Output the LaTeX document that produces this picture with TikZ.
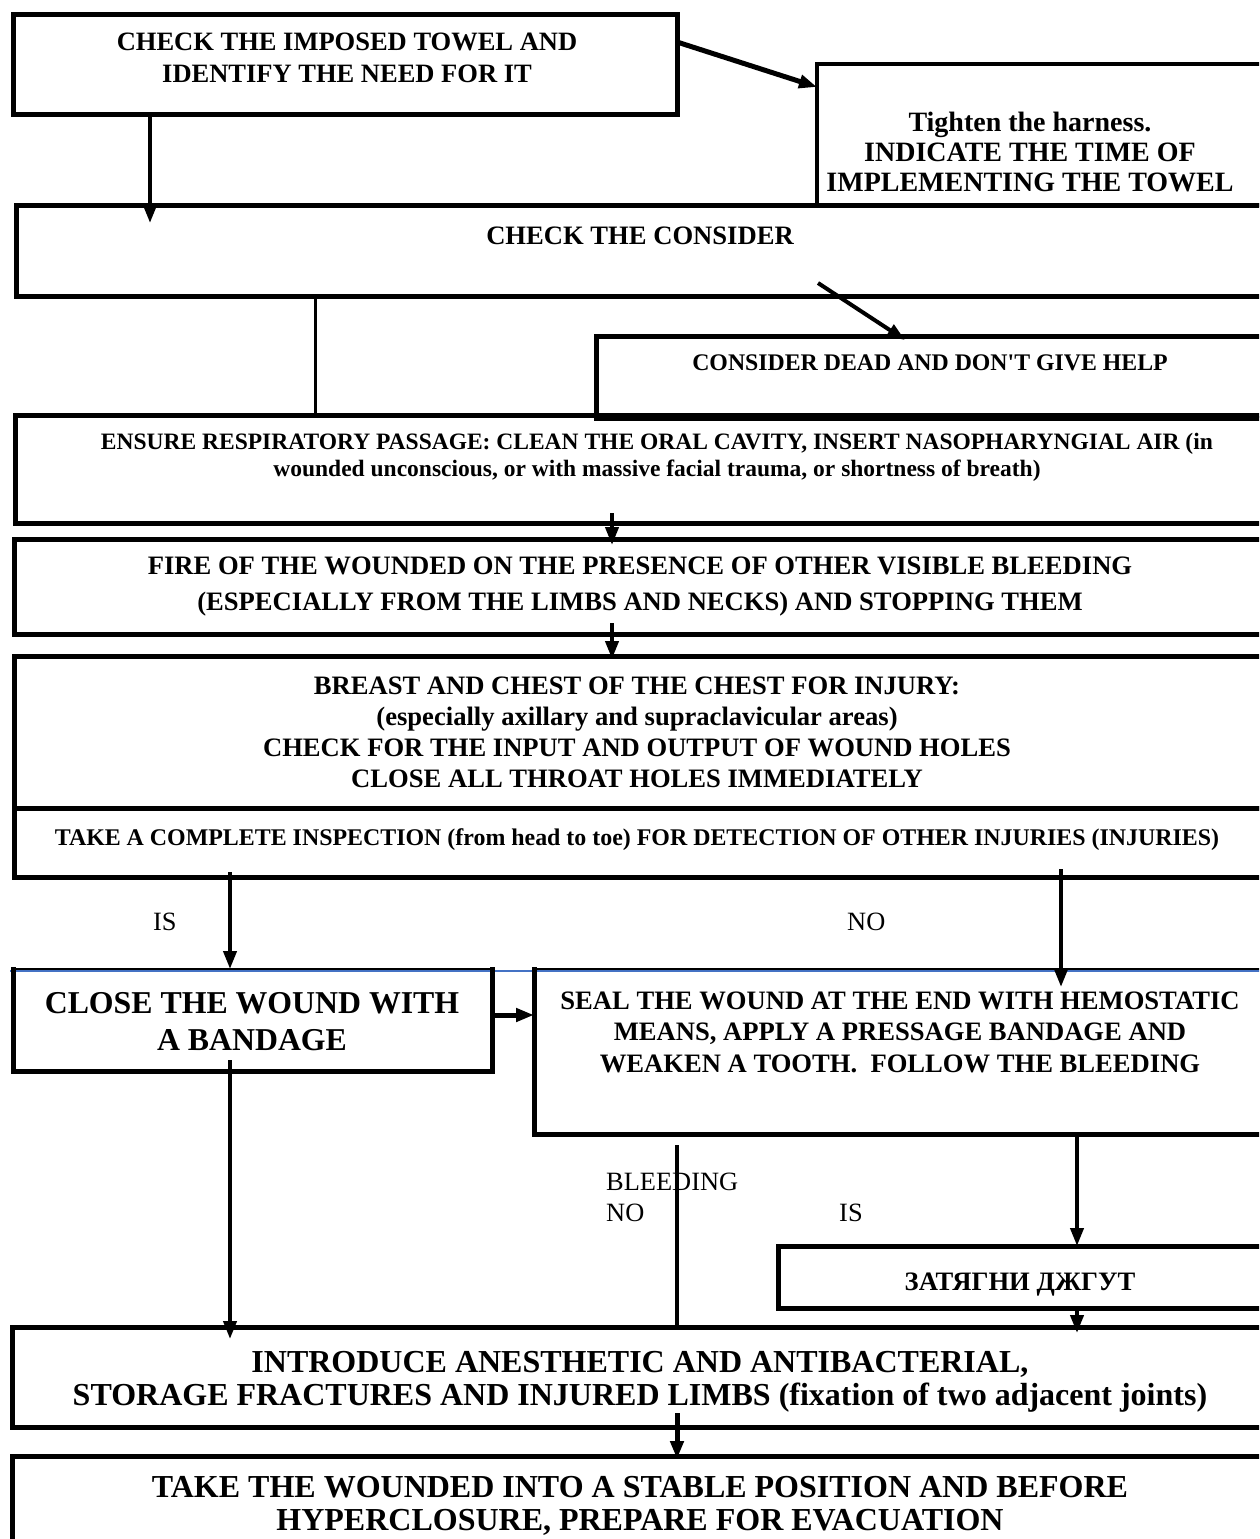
\documentclass[tikz,border=0pt]{standalone}
\usepackage{fontspec}
\setmainfont{Liberation Serif}[BoldFont={Liberation Serif Bold}]
\newfontfamily\rawserif{Liberation Serif}[BoldFont={Liberation Serif Bold}]
\usetikzlibrary{arrows.meta}
\begin{document}
\begin{tikzpicture}[x=1pt,y=-1pt,
  box/.style={draw, line width=5pt, rectangle, inner sep=0pt, outer sep=0pt, anchor=north west},
  openbox/.style={rectangle, inner sep=0pt, outer sep=0pt, anchor=north west},
  side/.style={line width=5pt, line cap=rect},
  topline/.style={line width=2pt},
  blueline/.style={line width=1.5pt, draw={rgb,255:red,68;green,114;blue,196}},
  txt/.style={align=center, inner sep=0pt, font=\bfseries},
  lbl/.style={inner sep=0pt, anchor=west, font=\fontsize{26.4}{30}\selectfont},
  conn/.style={line width=4pt},
  arr/.style={line width=4pt, -{Triangle[length=18pt,width=13pt]}},
  thinconn/.style={line width=3pt}
]
\useasboundingbox (0,0) rectangle (1259,1539);
\clip (0,0) rectangle (1259,1539);
\fill[white] (0,0) rectangle (1259,1539);

% x positions of connectors
\coordinate (xa) at (150,0);
\coordinate (xce) at (315,0);
\coordinate (xcd1) at (818,0);
\coordinate (xcd2) at (905,0);
\coordinate (xm) at (612,0);
\coordinate (xl) at (230,0);
\coordinate (xr) at (1061,0);
\coordinate (xk) at (677,0);
\coordinate (xq) at (1077,0);

% boxes
\node[box, minimum width=664pt, minimum height=100pt] (A) at (13,14) {};
\node[box, line width=4.5pt, minimum width=451pt, minimum height=141pt] (B) at (817,64) {};
\node[box, minimum width=1252pt, minimum height=91pt] (C) at (16,205) {};
\node[box, minimum width=672pt, minimum height=82pt] (D) at (596,336) {};
\node[box, minimum width=1253pt, minimum height=108pt] (E) at (15,415) {};
\node[box, minimum width=1254pt, minimum height=95pt] (F) at (14,539) {};
\node[box, minimum width=1254pt, minimum height=152pt] (G) at (14,656) {};
\node[box, minimum width=1254pt, minimum height=69pt] (H) at (14,808) {};
\node[openbox, minimum width=479pt, minimum height=102pt] (I) at (13,969) {};
\node[openbox, minimum width=734pt, minimum height=165pt] (J) at (534,969) {};
\node[box, minimum width=490pt, minimum height=62pt] (L) at (778,1246) {};
\node[box, minimum width=1256pt, minimum height=100pt] (K) at (12,1327) {};
\node[box, minimum width=1256pt, minimum height=110pt] (M) at (12,1456) {};

% boxes I and J: thick sides, thin top over a blue rule
\draw[blueline] ([shift={(-3pt,-2pt)}]I.north west) -- ([yshift=-2pt]J.north east);
\draw[side] (I.north west) -- (I.south west) -- (I.south east) -- (I.north east);
\draw[side] (J.north west) -- (J.south west) -- (J.south east) -- (J.north east);
\draw[topline] (I.north west) -- (I.north east);
\draw[topline] (J.north west) -- (J.north east);

% texts
\node[txt, font=\bfseries\fontsize{26.5}{32}\selectfont] (tA) at (347,58) {CHECK THE IMPOSED TOWEL AND\\IDENTIFY THE NEED FOR IT};
\node[txt, font=\bfseries\fontsize{28}{30}\selectfont] (tB) at (1030,152) {Tighten the harness.\\INDICATE THE TIME OF\\IMPLEMENTING THE TOWEL};
\node[txt, font=\bfseries\fontsize{26.6}{32}\selectfont] (tC) at (640,236) {CHECK THE CONSIDER};
\node[txt, font=\rawserif\bfseries\fontsize{23.8}{28}\selectfont] (tD) at (930,363) {CONSIDER DEAD AND DON'T GIVE HELP};
\node[txt, font=\bfseries\fontsize{23.5}{27}\selectfont] (tE) at (657,457) {ENSURE RESPIRATORY PASSAGE: CLEAN THE ORAL CAVITY, INSERT NASOPHARYNGIAL AIR (in\\wounded unconscious, or with massive facial trauma, or shortness of breath)};
\node[txt, font=\bfseries\fontsize{26.6}{36}\selectfont] (tF) at (640,587) {FIRE OF THE WOUNDED ON THE PRESENCE OF OTHER VISIBLE BLEEDING\\(ESPECIALLY FROM THE LIMBS AND NECKS) AND STOPPING THEM};
\node[txt, font=\bfseries\fontsize{26.6}{31}\selectfont] (tG) at (637,732) {BREAST AND CHEST OF THE CHEST FOR INJURY:\\(especially axillary and supraclavicular areas)\\CHECK FOR THE INPUT AND OUTPUT OF WOUND HOLES\\CLOSE ALL THROAT HOLES IMMEDIATELY};
\node[txt, font=\bfseries\fontsize{23.9}{28}\selectfont] (tH) at (637,840) {TAKE A COMPLETE INSPECTION (from head to toe) FOR DETECTION OF OTHER INJURIES (INJURIES)};
\node[txt, font=\bfseries\fontsize{31.8}{37}\selectfont] (tI) at (252,1022) {CLOSE THE WOUND WITH\\A BANDAGE};
\node[txt, font=\bfseries\fontsize{26.6}{31.5}\selectfont] (tJ) at (900,1032) {SEAL THE WOUND AT THE END WITH HEMOSTATIC\\MEANS, APPLY A PRESSAGE BANDAGE AND\\WEAKEN A TOOTH.\ \ FOLLOW THE BLEEDING};
\node[txt, font=\bfseries\fontsize{26.6}{30}\selectfont] (tL) at (1020,1285) {ЗАТЯГНИ ДЖГУТ};
\node[txt, font=\bfseries\fontsize{32}{33.5}\selectfont] (tK) at (640,1382) {INTRODUCE ANESTHETIC AND ANTIBACTERIAL,\\STORAGE FRACTURES AND INJURED LIMBS (fixation of two adjacent joints)};
\node[txt, font=\bfseries\fontsize{32}{33.5}\selectfont] (tM) at (640,1506) {TAKE THE WOUNDED INTO A STABLE POSITION AND BEFORE\\HYPERCLOSURE, PREPARE FOR EVACUATION};

% labels
\node[lbl] (lIS) at (153,922) {IS};
\node[lbl] (lNO) at (847,922) {NO};
\node[lbl] (lBL) at (606,1182) {BLEEDING};
\node[lbl] (lNO2) at (606,1213) {NO};
\node[lbl] (lIS2) at (839,1213) {IS};

% connectors
\draw[arr, line width=5pt] ([yshift=-28pt]A.north east) -- ([yshift=-23pt]B.north west);
\draw[arr] (A.south -| xa) -- ([yshift=-18pt]C.north -| xa);
\draw[thinconn] (C.south -| xce) -- (E.north -| xce);
\draw[arr] ([yshift=13pt]C.south -| xcd1) -- ([yshift=-4pt]D.north -| xcd2);
\draw[arr] ([yshift=10pt]E.south -| xm) -- ([yshift=-6pt]F.north -| xm);
\draw[arr] ([yshift=11pt]F.south -| xm) -- ([yshift=-3pt]G.north -| xm);
\draw[arr] ([yshift=5pt]H.south -| xl) -- (I.north -| xl);
\draw[arr] ([yshift=8pt]H.south -| xr) -- ([yshift=-18pt]J.north -| xr);
\draw[arr, line width=5pt] ([yshift=5pt]I.east) -- ([yshift=5pt]I.east -| J.west);
\draw[arr] ([yshift=11pt]I.south -| xl) -- ([yshift=-12pt]K.north -| xl);
\draw[conn] ([yshift=-11pt]J.south -| xk) -- (K.north -| xk);
\draw[arr] (J.south -| xq) -- (L.north -| xq);
\draw[arr] (L.south -| xq) -- ([yshift=-6pt]K.north -| xq);
\draw[arr, line width=5pt] ([yshift=14pt]K.south -| xk) -- ([yshift=-3pt]M.north -| xk);
\end{tikzpicture}
\end{document}
